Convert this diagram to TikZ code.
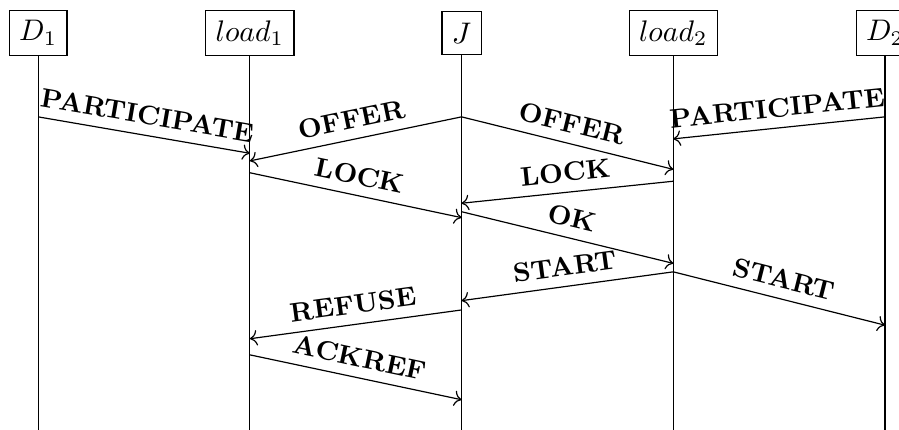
\documentclass[tikz,border=0pt]{standalone}
\usepackage{amsmath}
\usetikzlibrary{arrows.meta,positioning}

\begin{document}
\begin{tikzpicture}[
  actor/.style={draw, minimum height=0.51cm},
  msg/.style={->},
  lbl/.style={sloped, above, font=\small\bfseries}]
\useasboundingbox (-0.45,0) rectangle (10.165,-5.077);
% actors and lifelines
\foreach \x/\nm/\lab in {0/D1/$D_1$, 2.5/L1/$load_1$, 5/J/$J$, 7.5/L2/$load_2$, 10/D2/$D_2$} {
  \node[actor] (\nm) at (\x,-0.39) {\lab};
  \draw (\nm.south) -- (\nm |- 0,-5.2);
}
% messages: from/y/to/y/label
\foreach \a/\ya/\b/\yb/\txt in {D1/1.38/L1/1.81/PARTICIPATE, J/1.38/L1/1.90/OFFER,
    J/1.38/L2/2.00/OFFER, D2/1.38/L2/1.64/PARTICIPATE, L1/2.04/J/2.57/LOCK,
    L2/2.14/J/2.40/LOCK, J/2.50/L2/3.11/OK, L2/3.21/J/3.55/START,
    L2/3.21/D2/3.84/START, J/3.66/L1/4.00/REFUSE, L1/4.19/J/4.72/ACKREF} {
  \draw[msg] (\a |- 0,-\ya) -- node[lbl] {\txt} (\b |- 0,-\yb);
}
\end{tikzpicture}
\end{document}
